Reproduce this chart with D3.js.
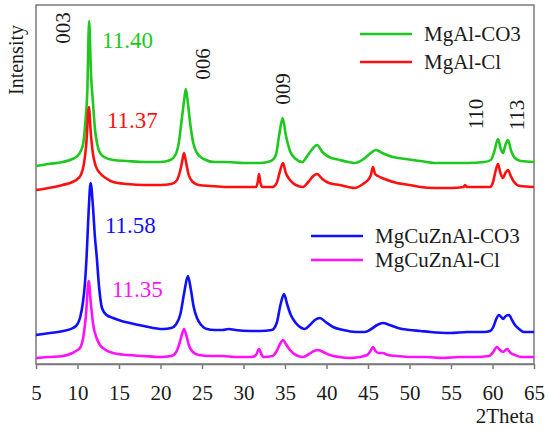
<!DOCTYPE html>
<html lang="en">
<head>
    <meta charset="UTF-8">
    <title>XRD patterns</title>
    <script src="https://d3js.org/d3.v7.min.js"></script>
    <style>
        body { margin: 0; background: #fff; }
    </style>
</head>
<body>
    <svg width="550" height="430"></svg>
    <script>
        // Diffraction patterns: [2theta, intensity (a.u., stacked)]
        const mgAlCO3 = [[5.0,199],[6.5,201],[8.2,203],[9.4,206],[10.0,209],[10.4,214],[10.7,222],[10.95,243],[11.18,273],[11.40,344],[11.63,290],[11.87,262],[12.1,236],[12.35,222],[12.6,214],[13.2,208],[14.3,205],[16,204],[18,203],[20,203],[21.2,205],[21.8,210],[22.2,222],[22.55,245],[22.85,265],[23.05,276],[23.3,262],[23.6,240],[23.95,222],[24.4,212],[25.2,206],[26.5,203],[28,203],[30,202],[32,202],[33.3,204],[33.9,210],[34.3,230],[34.72,247],[35.1,230],[35.6,214],[36.3,206],[37.1,203],[37.6,208],[38.2,215],[38.86,220],[39.5,213],[40.3,208],[41.6,205],[42.6,203],[43.4,202],[44.3,205],[45.2,211],[45.96,215],[46.7,212],[48.0,208],[49.5,206],[51.3,204],[53,202],[54.9,202],[57,202],[59.0,203],[59.8,205],[60.2,213],[60.66,226],[61.0,216],[61.27,212],[61.55,220],[61.87,225],[62.25,214],[62.7,207],[63.4,204],[65,203]];

        const mgAlCl = [[5.0,175],[6.5,177],[8.2,180],[9.4,183],[10.0,186],[10.4,190],[10.75,200],[11.05,220],[11.37,258],[11.6,232],[11.85,212],[12.2,199],[12.7,192],[13.4,187],[14.3,183],[16,181],[18,180],[20,180],[21.3,181],[21.9,184],[22.3,192],[22.6,203],[22.83,212],[23.05,204],[23.4,190],[23.9,183],[24.6,180],[26,179],[28,178],[30,178],[31.5,178],[31.72,183],[31.87,191],[32.02,183],[32.25,178],[33.5,178],[34.0,182],[34.4,194],[34.76,202],[35.1,192],[35.6,185],[36.3,180],[37.17,178],[37.8,183],[38.4,189],[38.86,191],[39.5,186],[40.3,182],[41.6,180],[43.4,177],[44.4,181],[45.0,185],[45.35,190],[45.6,198],[45.85,191],[46.2,189],[47.0,186],[48.5,182],[50,180],[51.3,178],[53,177],[55,177],[56.5,178],[56.7,180],[56.9,178],[58.5,178],[59.7,178],[60.1,184],[60.4,195],[60.66,201],[60.95,192],[61.27,187],[61.55,192],[61.87,195],[62.2,189],[62.6,183],[63.3,179],[65,178]];

        const mgCuZnAlCO3 = [[5.0,30],[6.7,32],[8.3,34],[9.46,37],[10.0,41],[10.3,47],[10.66,63],[10.9,82],[11.1,109],[11.35,155],[11.58,182],[11.85,160],[12.1,128],[12.31,109],[12.6,78],[12.95,57],[13.5,50],[14.28,47],[15.3,44],[16.3,42],[18,39],[20.3,36],[21.3,37],[21.9,41],[22.4,51],[22.85,72],[23.3,89],[23.65,76],[24.0,58],[24.4,47],[24.9,40],[25.6,36],[26.5,35],[27.5,35],[28.2,36],[29,35],[30.8,34],[32,34],[33.4,35],[34.0,42],[34.45,60],[34.88,71],[35.25,61],[35.7,50],[36.3,42],[37.0,37],[37.4,36],[38.0,40],[38.6,45],[39.2,47],[39.9,43],[40.8,38],[42,35],[43.5,33],[44.6,33],[45.4,36],[46.1,40],[46.8,42],[47.6,40],[48.6,37],[50,35],[51.3,34],[52.5,33],[54.9,32],[57,33],[59.0,33],[59.7,34],[60.1,38],[60.45,46],[60.78,50],[61.05,48],[61.27,46],[61.6,49],[61.99,50],[62.35,45],[62.7,40],[63.2,36],[63.8,33],[65,33]];

        const mgCuZnAlCl = [[5.0,7],[6.5,8],[8.25,9],[9.4,12],[10.0,15],[10.3,17],[10.7,28],[11.0,48],[11.35,84],[11.6,62],[11.9,40],[12.3,27],[12.7,20],[13.4,15],[14.28,12],[16,10],[18,9],[19.9,8],[21.3,9],[21.9,13],[22.3,22],[22.6,31],[22.83,36],[23.1,30],[23.45,19],[23.9,13],[24.6,10],[26,9],[27.5,9],[29,8],[31.0,8],[31.5,10],[31.87,16],[32.2,10],[32.4,8],[33.5,9],[34.0,14],[34.4,21],[34.76,25],[35.1,21],[35.6,15],[36.3,10],[37.17,8],[37.9,11],[38.5,14],[38.98,15],[39.6,13],[40.4,10],[41.5,8],[42.8,7],[44,8],[44.9,10],[45.3,14],[45.6,18],[45.9,14],[46.3,12],[46.8,12],[47.4,10],[48.5,9],[50,8],[52,8],[54,7],[56,8],[58,8],[59.6,9],[60.0,12],[60.54,18],[60.9,15],[61.27,13],[61.75,16],[62.2,12],[62.7,10],[63.5,8],[65,8]];

        const seriesNames = ["MgAl-CO3", "MgAl-Cl", "MgCuZnAl-CO3", "MgCuZnAl-Cl"];
        const seriesColors = ["#1ec81e", "#ff1010", "#1010ff", "#ff10ff"];
        const xTicks = [5, 10, 15, 20, 25, 30, 35, 40, 45, 50, 55, 60, 65];

        // reflection labels: [text, 2theta, intensity]
        const hklLabels = [["003", 8.25, 337], ["006", 25.1, 301], ["009", 34.76, 276], ["110", 58.0, 251], ["113", 62.85, 250]];
        // basal spacing labels next to the 003 peaks: [text, 2theta, intensity]
        const peakLabels = [["11.40", 12.95, 317], ["11.37", 13.55, 237], ["11.58", 13.3, 132], ["11.35", 14.15, 68]];

        const serif = "'Liberation Serif', 'Times New Roman', Times, Tinos, 'Noto Serif', 'DejaVu Serif', serif";
        const svg = d3.select("svg").style("font-family", serif);
        const margin = { left: 36, right: 16, top: 5, bottom: 66 };
        const width = 550, height = 430;

        const x = d3.scaleLinear().domain([5, 65]).range([margin.left, width - margin.right]);
        const y = d3.scaleLinear().domain([0, 360]).range([height - margin.bottom + 1, margin.top]);

        // frame
        svg.append("rect")
            .attr("x", x(5)).attr("y", margin.top)
            .attr("width", x(65) - x(5)).attr("height", y(0) - 1 - margin.top)
            .attr("fill", "none").attr("stroke", "#7a7a7a").attr("stroke-width", 1.5);

        const xAxis = svg.append("g")
            .attr("transform", `translate(0,${y(0) - 1})`)
            .call(d3.axisBottom(x).tickValues(xTicks).tickSize(5).tickPadding(16).tickSizeOuter(0))
            .attr("font-family", null)
            .attr("font-size", 21);
        xAxis.select(".domain").attr("stroke", "#7a7a7a").attr("stroke-width", 1.5);
        xAxis.selectAll(".tick line").attr("stroke", "#7a7a7a").attr("stroke-width", 1.5);
        xAxis.selectAll(".tick text").attr("fill", "#1a1a1a");

        svg.append("text")
            .attr("x", 534).attr("y", 423)
            .attr("text-anchor", "end")
            .attr("fill", "#1a1a1a")
            .attr("font-size", 21)
            .text("2Theta");

        svg.append("text")
            .attr("transform", "translate(23,60) rotate(-90)")
            .attr("text-anchor", "middle")
            .attr("fill", "#1a1a1a")
            .attr("font-size", 20)
            .text("Intensity");

        // curves
        const line = d3.line()
            .x(d => x(d[0]))
            .y(d => y(d[1]))
            .curve(d3.curveMonotoneX);

        const patterns = [mgAlCO3, mgAlCl, mgCuZnAlCO3, mgCuZnAlCl];
        svg.selectAll("path.pattern")
            .data(patterns)
            .enter()
            .append("path")
            .attr("class", "pattern")
            .attr("d", line)
            .attr("fill", "none")
            .attr("stroke", (d, i) => seriesColors[i])
            .attr("stroke-width", 2.6)
            .attr("stroke-linejoin", "round");

        // hkl labels, rotated
        svg.selectAll("text.hkl")
            .data(hklLabels)
            .enter()
            .append("text")
            .attr("class", "hkl")
            .attr("transform", d => `translate(${x(d[1])},${y(d[2])}) rotate(-90)`)
            .attr("text-anchor", "middle")
            .attr("dy", "0.35em")
            .attr("fill", "#1a1a1a")
            .attr("font-size", 21)
            .text(d => d[0]);

        svg.selectAll("text.peak")
            .data(peakLabels)
            .enter()
            .append("text")
            .attr("class", "peak")
            .attr("x", d => x(d[1]))
            .attr("y", d => y(d[2]))
            .attr("fill", (d, i) => seriesColors[i])
            .attr("font-size", 23)
            .text(d => d[0]);

        // legends: two groups of two
        const legendPos = [[360, 34], [360, 62], [311, 236], [311, 260]];
        seriesNames.forEach((name, i) => {
            const [lx, ly] = legendPos[i];
            svg.append("line")
                .attr("x1", lx).attr("x2", lx + 52)
                .attr("y1", ly).attr("y2", ly)
                .attr("stroke", seriesColors[i]).attr("stroke-width", 2.6);
            svg.append("text")
                .attr("x", lx + 64).attr("y", ly)
                .attr("dy", "0.35em")
                .attr("fill", "#1a1a1a")
                .attr("font-size", 21)
                .text(name);
        });
    </script>
</body>
</html>
